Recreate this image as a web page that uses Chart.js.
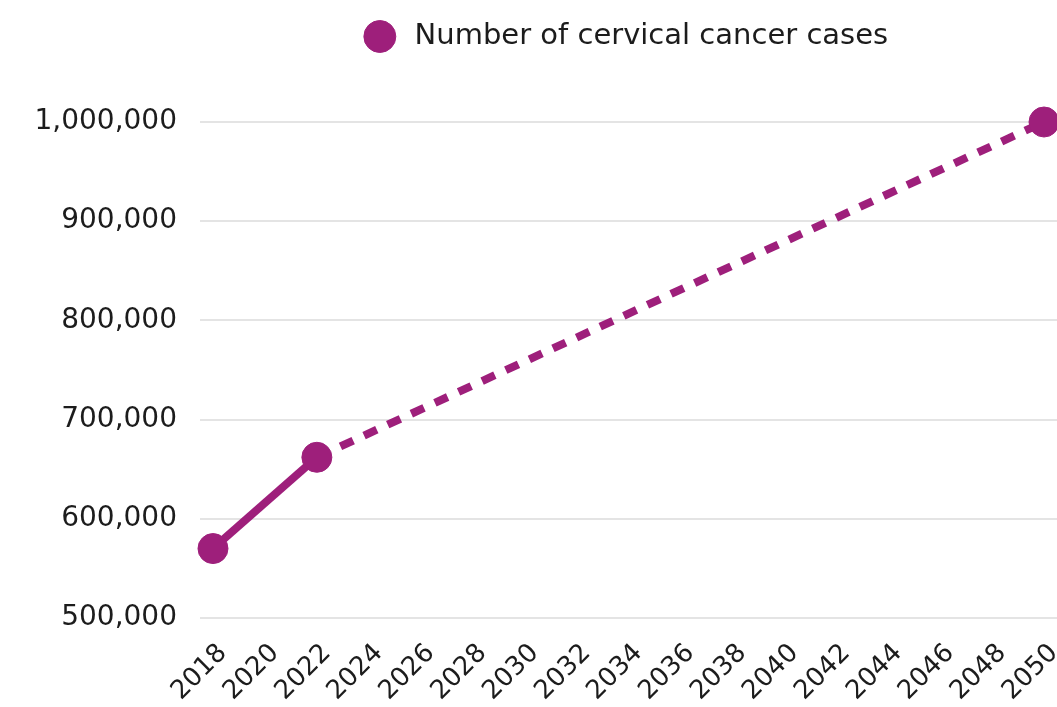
<!DOCTYPE html>
<html>
<head>
<meta charset="utf-8">
<title>Number of cervical cancer cases</title>
<script src="https://cdn.jsdelivr.net/npm/chart.js@4"></script>
<style>
  html, body { margin: 0; padding: 0; background: #ffffff; }
  #wrap { width: 1057px; height: 707px; position: relative; }
</style>
</head>
<body>
<div id="wrap"><canvas id="cases-chart"></canvas></div>
<script>
// Observed (2018, 2022) and projected (2050) cases
const years = [2018, 2022, 2050];
const cases = [570000, 662000, 1000000];
const yearTicks = [2018, 2020, 2022, 2024, 2026, 2028, 2030, 2032, 2034,
  2036, 2038, 2040, 2042, 2044, 2046, 2048, 2050];
const seriesLabel = "Number of cervical cancer cases";
const projectionFrom = 2022; // segments after this year are dashed

const PURPLE = "#9e1f7b";
const INK = "#1c1c1c";
const FONT = "'DejaVu Sans', sans-serif";

// extra room between the legend and the plot
const legendGap = {
  id: "legendGap",
  beforeInit(chart) {
    const fit = chart.legend.fit;
    chart.legend.fit = function () {
      fit.bind(chart.legend)();
      this.height += 61;
    };
  }
};

const ctx = document.getElementById("cases-chart");

new Chart(ctx, {
  type: "line",
  data: {
    datasets: [{
      label: " " + seriesLabel,
      data: years.map((y, i) => ({ x: y, y: cases[i] })),
      borderColor: PURPLE,
      backgroundColor: PURPLE,
      borderWidth: 8,
      borderCapStyle: "butt",
      pointRadius: 15,
      pointBorderWidth: 1,
      pointBackgroundColor: PURPLE,
      pointBorderColor: PURPLE,
      tension: 0,
      clip: false,
      segment: {
        borderDash: (c) => c.p0.parsed.x >= projectionFrom ? [14, 12] : undefined
      }
    }]
  },
  plugins: [legendGap],
  options: {
    responsive: true,
    maintainAspectRatio: false,
    animation: false,
    // big points would otherwise pull the plot in from the right edge
    layout: { autoPadding: false, padding: { top: 12, right: 0, left: 0, bottom: 0 } },
    plugins: {
      legend: {
        display: true,
        position: "top",
        fullSize: false,
        labels: {
          usePointStyle: true,
          pointStyle: "circle",
          boxWidth: 22,
          boxHeight: 22.6,
          padding: 10,
          color: INK,
          font: { family: FONT, size: 29 }
        }
      },
      tooltip: { enabled: false }
    },
    scales: {
      x: {
        type: "linear",
        min: 2017.5,
        max: 2050.5,
        afterBuildTicks: (axis) => {
          axis.ticks = yearTicks.map(v => ({ value: v }));
        },
        afterFit: (axis) => {
          axis.height = 89;
          axis.paddingRight = 0; // let the last rotated label run off the edge
        },
        grid: { display: false, drawTicks: false },
        border: { display: false },
        ticks: {
          autoSkip: false,
          minRotation: 45,
          maxRotation: 45,
          padding: 20,
          labelOffset: 10,
          color: INK,
          font: { family: FONT, size: 26 },
          callback: (v) => String(v)
        }
      },
      y: {
        min: 500000,
        max: 1000000,
        afterFit: (axis) => { axis.width = 200; },
        grid: { color: "#e4e4e4", lineWidth: 2, drawTicks: false },
        border: { display: false },
        ticks: {
          stepSize: 100000,
          padding: 23,
          color: INK,
          font: { family: FONT, size: 28 },
          callback: (v) => v.toLocaleString("en-US")
        }
      }
    }
  }
});
</script>
</body>
</html>
